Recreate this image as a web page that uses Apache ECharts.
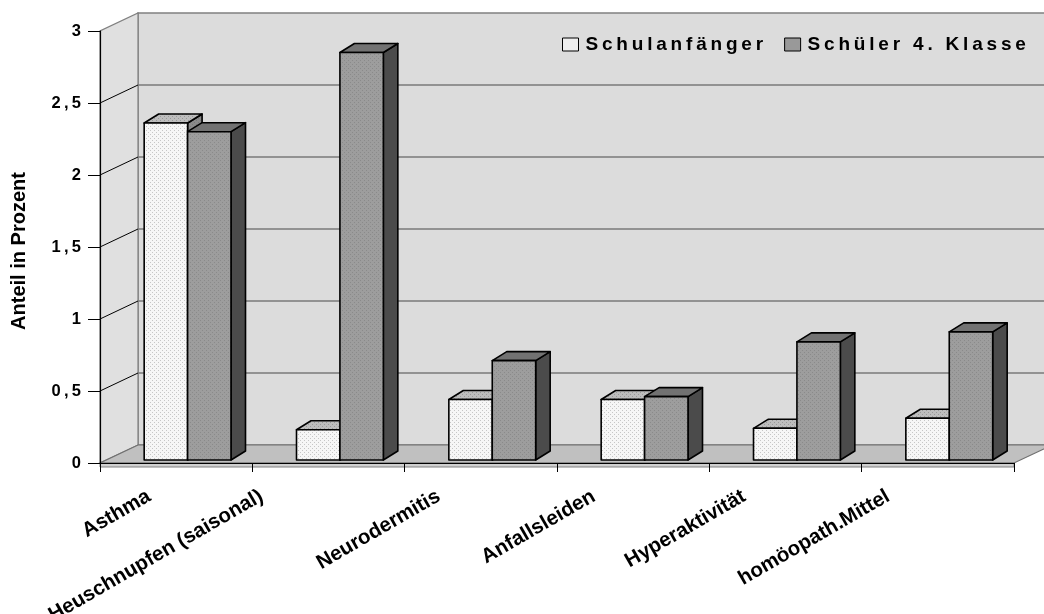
<!DOCTYPE html>
<html><head><meta charset="utf-8">
<script src="https://cdn.jsdelivr.net/npm/echarts@6/dist/echarts.min.js"></script>
<style>html,body{margin:0;padding:0;background:#fff}#c{width:1044px;height:614px}</style>
</head><body><div id="c"></div>
<script>
// ---- data ----
const categories = ['Asthma', 'Heuschnupfen (saisonal)', 'Neurodermitis', 'Anfallsleiden', 'Hyperaktivität', 'homöopath.Mittel'];
const seriesNames = ['Schulanfänger', 'Schüler 4. Klasse'];
const schulanfaenger = [2.34, 0.21, 0.42, 0.42, 0.22, 0.29];
const klasse4 = [2.28, 2.83, 0.69, 0.44, 0.82, 0.89];
const yTicks = [0, 0.5, 1, 1.5, 2, 2.5, 3];
const yTitle = 'Anteil in Prozent';

// ---- styling ----
const FONT = '"Liberation Sans", Arial, Helvetica, sans-serif';
const WALL_D = [38, -18];
const BAR_D = [14.5, -9];
const LABEL_SIZE = 20.5;

function makePattern(bg, dot) {
  const c = document.createElement('canvas'); c.width = 4; c.height = 4;
  const g = c.getContext('2d'); g.fillStyle = bg; g.fillRect(0, 0, 4, 4);
  g.fillStyle = dot; g.fillRect(0, 0, 1, 1); g.fillRect(2, 2, 1, 1);
  return { image: c, repeat: 'repeat' };
}
const faces = [
  { front: makePattern('#f6f6f6', '#c6c6c6'), top: makePattern('#bdbdbd', '#989898'), side: makePattern('#8a8a8a', '#787878') },
  { front: makePattern('#9d9d9d', '#8a8a8a'), top: '#727272', side: '#4b4b4b' }
];

const measureCtx = document.createElement('canvas').getContext('2d');
function textWidth(t, size) { measureCtx.font = 'bold ' + size + 'px ' + FONT; return measureCtx.measureText(t).width; }

function renderWalls(params, api) {
  const cs = params.coordSys;
  const x0 = cs.x, x1 = cs.x + cs.width;
  const yb = api.coord([0, yTicks[0]])[1];
  const yt = api.coord([0, yTicks[yTicks.length - 1]])[1];
  const dx = WALL_D[0], dy = WALL_D[1];
  const ch = [];
  ch.push({ type: 'rect', shape: { x: x0 + dx, y: yt + dy, width: cs.width, height: yb - yt }, style: { fill: '#dcdcdc', stroke: '#808080', lineWidth: 1.5 } });
  ch.push({ type: 'polygon', shape: { points: [[x0, yb], [x0, yt], [x0 + dx, yt + dy], [x0 + dx, yb + dy]] }, style: { fill: '#e0e0e0', stroke: '#808080', lineWidth: 1.2 } });
  ch.push({ type: 'polygon', shape: { points: [[x0, yb], [x1, yb], [x1 + dx, yb + dy], [x0 + dx, yb + dy]] }, style: { fill: '#c0c0c0', stroke: '#707070', lineWidth: 1.2 } });
  yTicks.forEach(function (v, k) {
    if (k === 0) return;
    const y = api.coord([0, v])[1];
    if (k < yTicks.length - 1) {
      ch.push({ type: 'line', shape: { x1: x0 + dx, y1: y + dy, x2: x1 + dx, y2: y + dy }, style: { stroke: '#7a7a7a', lineWidth: 1.6 } });
      ch.push({ type: 'line', shape: { x1: x0, y1: y, x2: x0 + dx, y2: y + dy }, style: { stroke: '#000', lineWidth: 1 } });
    }
  });
  ch.push({ type: 'rect', shape: { x: x0, y: yb, width: cs.width, height: 4 }, style: { fill: '#d0d0d0', stroke: '#808080', lineWidth: 1 } });
  return { type: 'group', children: ch };
}

function barRenderer(sIdx) {
  return function (params, api) {
    const i = api.value(0), v = api.value(1);
    const base = api.coord([i, 0]);
    const topP = api.coord([i, v]);
    const band = api.size([1, 0])[0];
    const w = band * 0.285;
    const L = base[0] - band * 0.21 + sIdx * w;
    const R = L + w;
    const B = base[1] - 3, T = topP[1] - 3;
    const dx = BAR_D[0], dy = BAR_D[1];
    const f = faces[sIdx];
    const st = { stroke: '#000', lineWidth: 1.6, lineJoin: 'round' };
    return {
      type: 'group', children: [
        { type: 'polygon', shape: { points: [[R, T], [R + dx, T + dy], [R + dx, B + dy], [R, B]] }, style: Object.assign({ fill: f.side }, st) },
        { type: 'polygon', shape: { points: [[L, T], [R, T], [R + dx, T + dy], [L + dx, T + dy]] }, style: Object.assign({ fill: f.top }, st) },
        { type: 'rect', shape: { x: L, y: T, width: w, height: B - T }, style: Object.assign({ fill: f.front }, st) }
      ]
    };
  };
}

function renderLabel(params, api) {
  const i = api.value(0);
  const p = api.coord([i, 0]);
  const text = categories[i];
  const em = textWidth(text, LABEL_SIZE) / LABEL_SIZE;
  const shift = 9.2 + 4.86 * em;
  return {
    type: 'text', x: p[0] - shift, y: p[1] + 32, rotation: Math.PI / 6,
    style: { text: text, fontSize: LABEL_SIZE, fontWeight: 'bold', fontFamily: FONT, fill: '#000', align: 'right', verticalAlign: 'middle' }
  };
}

const chart = echarts.init(document.getElementById('c'), null, { renderer: 'canvas' });
chart.setOption({
  animation: false,
  backgroundColor: '#ffffff',
  grid: { left: 100, top: 31, width: 914, height: 432, containLabel: false },
  xAxis: {
    type: 'category', data: categories, boundaryGap: true, z: 10,
    axisLine: { show: true, lineStyle: { color: '#000', width: 1.2 } },
    axisTick: { show: true, length: 9, interval: 0, lineStyle: { color: '#000', width: 1 } },
    axisLabel: { show: false }, splitLine: { show: false }
  },
  yAxis: {
    type: 'value', min: yTicks[0], max: yTicks[yTicks.length - 1], interval: 0.5, z: 10,
    axisLine: { show: true, lineStyle: { color: '#000', width: 1.2 } },
    axisTick: { show: true, length: 12, lineStyle: { color: '#000', width: 1 } },
    axisLabel: {
      margin: 19, color: '#000', fontFamily: FONT, fontWeight: 'bold', fontSize: 16.5,
      formatter: function (v) { return String(v).replace('.', ',').split('').join('\u2009'); }
    },
    splitLine: { show: false }
  },
  legend: {
    left: 562, top: 35, padding: 0, itemWidth: 16, itemHeight: 13, itemGap: 21, icon: 'rect',
    data: [
      { name: seriesNames[0], itemStyle: { color: '#eeeeee', borderColor: '#000', borderWidth: 1 } },
      { name: seriesNames[1], itemStyle: { color: '#999999', borderColor: '#000', borderWidth: 1 } }
    ],
    formatter: function (n) { return n.split('').join('\u2009'); },
    textStyle: { fontFamily: FONT, fontWeight: 'bold', fontSize: 19, color: '#000', padding: [0, 0, 0, 2] }
  },
  graphic: [{
    type: 'text', x: 19, y: 251, rotation: Math.PI / 2,
    style: { text: yTitle, fontFamily: FONT, fontWeight: 'bold', fontSize: 20, fill: '#000', align: 'center', verticalAlign: 'middle' }
  }],
  series: [
    { type: 'custom', name: 'walls', z: 1, silent: true, data: [[0, 0]], renderItem: renderWalls },
    { type: 'custom', name: seriesNames[0], z: 3, itemStyle: { color: '#eeeeee' }, data: schulanfaenger.map(function (v, i) { return [i, v]; }), renderItem: barRenderer(0) },
    { type: 'custom', name: seriesNames[1], z: 4, itemStyle: { color: '#999999' }, data: klasse4.map(function (v, i) { return [i, v]; }), renderItem: barRenderer(1) },
    { type: 'custom', name: 'labels', z: 5, silent: true, data: categories.map(function (c, i) { return [i, 0]; }), renderItem: renderLabel }
  ]
});
</script></body></html>
